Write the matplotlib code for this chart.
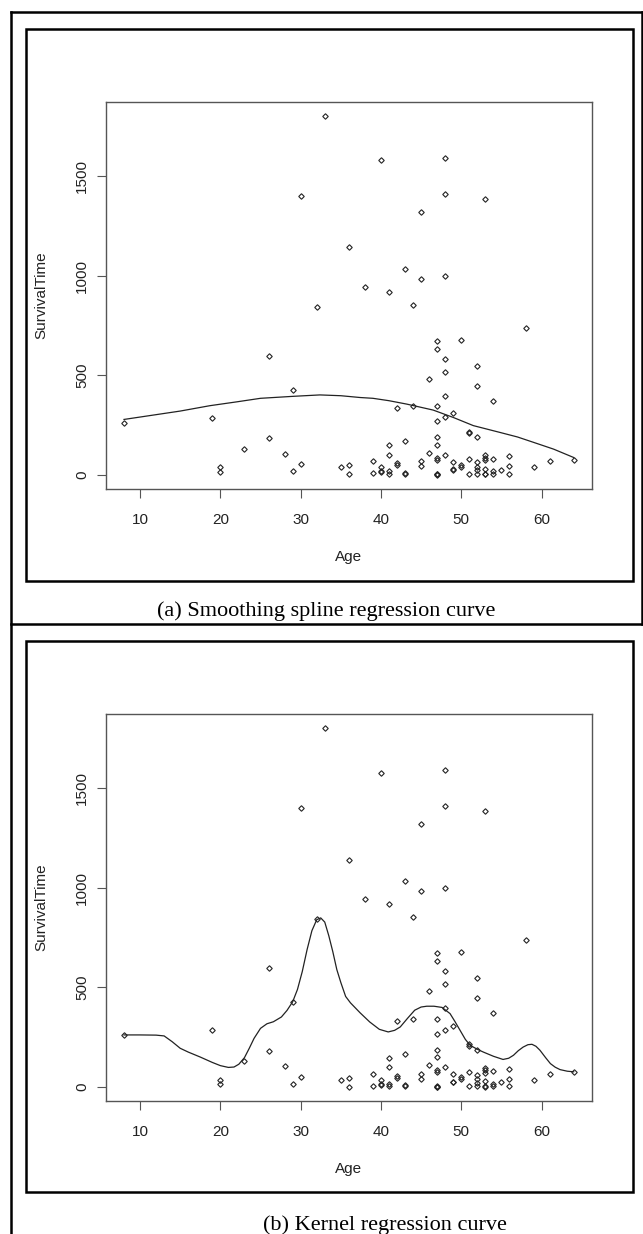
import numpy as np
import matplotlib.pyplot as plt
from matplotlib.patches import Rectangle
from matplotlib.lines import Line2D

# scatter data (Age vs SurvivalTime)
age = [8, 19, 20, 20, 23, 26, 26, 28, 29, 29, 30, 30, 32, 33, 35, 36, 36, 36,
       38, 39, 39, 40, 40, 40, 40, 41, 41, 41, 41, 41, 42, 42, 42, 43, 43, 43, 43,
       44, 44, 45, 45, 45, 45, 46, 46, 47, 47, 47, 47, 47, 47, 47, 47, 47, 47, 47,
       48, 48, 48, 48, 48, 48, 48, 48, 49, 49, 49, 49, 50, 50, 50, 51, 51, 51, 51,
       52, 52, 52, 52, 52, 52, 52, 53, 53, 53, 53, 53, 53, 53, 54, 54, 54, 54,
       55, 56, 56, 56, 58, 59, 61, 64]
survival = [262, 287, 37, 15, 131, 597, 183, 107, 428, 17, 1400, 52, 842, 1800, 37, 1142, 48, 3,
            943, 67, 8, 1577, 37, 17, 12, 918, 148, 102, 17, 5, 334, 57, 48, 1032, 168, 10, 6,
            852, 344, 1320, 985, 67, 42, 483, 112, 673, 633, 344, 268, 188, 152, 87, 75, 5, 3, 1,
            1592, 1410, 1000, 582, 518, 398, 289, 102, 309, 65, 27, 24, 678, 50, 40, 214, 208, 78, 5,
            547, 448, 188, 62, 40, 22, 4, 1386, 98, 85, 73, 30, 5, 3, 372, 82, 18, 6,
            26, 93, 43, 6, 737, 37, 67, 77]

# smoothing spline fit (panel a)
spline_age = [8, 10, 15, 18.7, 22, 25, 29.1, 32.4, 35, 37.4, 39, 41, 43.2, 46.5, 49,
              51.5, 54.8, 57, 59, 61.5, 64]
spline_val = [278, 290, 320, 347, 366, 384, 394, 401, 397, 388, 384, 372, 355, 325, 288,
              247, 213, 190, 163, 129, 87]

# kernel regression fit (panel b)
kernel_age = [8, 10, 12, 13, 14, 15, 16, 17.5, 19, 20, 21, 21.7, 22.3, 23, 23.6, 24.2, 25,
              25.8, 26.6, 27.6, 28.3, 29, 29.6, 30.2, 30.8, 31.4, 32, 32.5, 33, 33.5, 34,
              34.5, 35, 35.6, 36.2, 37.4, 38.6, 39.8, 40.9, 41.7, 42.4, 43.3, 44.2, 45,
              45.7, 46.6, 47.6, 48.6, 49.2, 49.85, 50.5, 51.1, 52, 52.75, 54, 55.2, 55.9,
              56.5, 57.1, 57.7, 58.3, 58.8, 59.3, 59.8, 60.5, 61.1, 61.7, 62.3, 63.2, 64]
kernel_val = [262, 262, 261, 257, 228, 195, 176, 151, 124, 108, 99, 101, 115, 148, 195, 245, 295,
              318, 328, 352, 385, 428, 490, 580, 690, 785, 840, 849, 828, 760, 680,
              590, 525, 455, 423, 373, 327, 290, 277, 285, 302, 345, 386, 402,
              406, 406, 400, 369, 330, 285, 240, 210, 190, 176, 155, 139, 145,
              160, 183, 201, 213, 215, 205, 185, 148, 118, 100, 88, 80, 77]

captions = ["(a) Smoothing spline regression curve", "(b) Kernel regression curve"]
x_ticks = [10, 20, 30, 40, 50, 60]
y_ticks = [0, 500, 1000, 1500]

W, H = 643, 1234
fig = plt.figure(figsize=(W / 100, H / 100), dpi=100)
plt.rcParams['font.family'] = ['Liberation Sans', 'DejaVu Sans']


def fx(px):
    return px / W


def fy(py):
    return 1 - py / H


def hline(y, x0, x1, lw=1.8):
    fig.add_artist(Line2D([fx(x0), fx(x1)], [fy(y), fy(y)], color='black', lw=lw,
                          transform=fig.transFigure))


def vline(x, y0, y1, lw=1.8):
    fig.add_artist(Line2D([fx(x), fx(x)], [fy(y0), fy(y1)], color='black', lw=lw,
                          transform=fig.transFigure))


# table-like outer frame
vline(11, 12, H)
hline(12, 11, W)
vline(641.5, 12, 624)
hline(624, 11, W)

# inner boxes round each plot
for top, bottom in [(29, 581), (641, 1192)]:
    fig.add_artist(Rectangle((fx(26), fy(bottom)), fx(633) - fx(26), fy(top) - fy(bottom),
                             fill=False, ec='black', lw=1.8, transform=fig.transFigure))


def r_range(vals):
    lo, hi = min(vals), max(vals)
    pad = 0.04 * (hi - lo)
    return lo - pad, hi + pad


def panel(ax, cx, cy):
    ax.plot(age, survival, ls='none', marker='D', ms=2.8, mfc='none', mec='#222222', mew=0.8)
    ax.plot(cx, cy, color='#222222', lw=0.9)
    ax.set_xlim(r_range(age))
    ax.set_ylim(r_range(survival))
    ax.set_xticks(x_ticks)
    ax.set_yticks(y_ticks)
    ax.set_yticklabels([str(v) for v in y_ticks], rotation=90, va='center')
    for s in ax.spines.values():
        s.set_color('#555555')
        s.set_linewidth(1.0)
    ax.tick_params(direction='out', length=6.8, width=0.8, color='#555555',
                   labelsize=11, labelcolor='#222222')
    ax.tick_params(axis='x', pad=10.3)
    ax.tick_params(axis='y', pad=5.5)
    ax.set_xlabel('Age', fontsize=11, color='#222222', va='center')
    ax.set_ylabel('SurvivalTime', fontsize=11, color='#222222', va='center', ha='center')
    ax.xaxis.set_label_coords(0.5, (489 - 557) / 387.3)
    ax.yaxis.set_label_coords((41 - 106) / 485.7, 0.5)


ax_a = fig.add_axes([fx(106), fy(489), fx(591.7) - fx(106), fy(101.7) - fy(489)])
panel(ax_a, spline_age, spline_val)
ax_b = fig.add_axes([fx(106), fy(1101.3), fx(591.7) - fx(106), fy(714) - fy(1101.3)])
panel(ax_b, kernel_age, kernel_val)

fig.text(fx(157), fy(611), captions[0], ha='left', va='center', fontsize=16,
         family=['Liberation Serif', 'DejaVu Serif'])
fig.text(fx(507), fy(1225), captions[1], ha='right', va='center', fontsize=16,
         family=['Liberation Serif', 'DejaVu Serif'])

fig.savefig('out.png', dpi=100, facecolor='white')
